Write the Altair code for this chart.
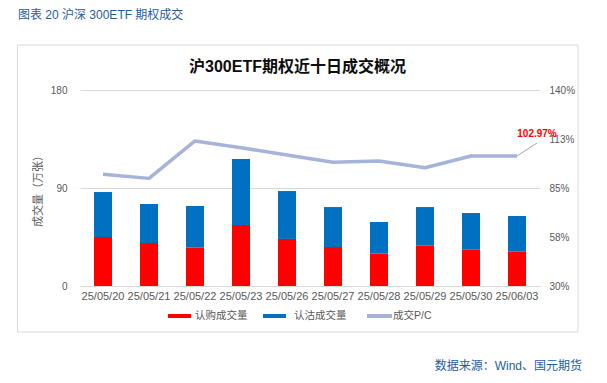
import altair as alt
import pandas as pd

dates = ["25/05/20", "25/05/21", "25/05/22", "25/05/23", "25/05/26",
         "25/05/27", "25/05/28", "25/05/29", "25/05/30", "25/06/03"]
call_vol = [45.0, 39.5, 35.2, 56.0, 43.2, 35.8, 29.7, 37.0, 33.3, 31.5]
put_vol = [41.3, 35.8, 38.3, 60.6, 44.0, 36.7, 29.1, 35.5, 33.7, 32.8]
pc_ratio = [92.7, 90.4, 111.4, 107.6, 103.5, 99.4, 100.1, 96.4, 102.97, 102.97]

series_names = ["认购成交量", "认沽成交量", "成交P/C"]
series_colors = ["#FF0000", "#0070C0", "#A6B4DA"]

left_ticks = [0, 90, 180]
right_ticks = [30, 57.5, 85, 112.5, 140]

CJK = "Liberation Sans, Noto Sans CJK SC"
GREY = "#595959"
BLUE_T = "#1F5C9E"

bars_rows = []
for i, d in enumerate(dates):
    bars_rows.append({"date": d, "series": series_names[0], "value": call_vol[i], "ord": 0})
    bars_rows.append({"date": d, "series": series_names[1], "value": put_vol[i], "ord": 1})
bars_df = pd.DataFrame(bars_rows)
line_df = pd.DataFrame({"date": dates, "ratio": pc_ratio})
last_df = pd.DataFrame({"date": [dates[-1]], "ratio": [pc_ratio[-1]],
                        "label": [f"{pc_ratio[-1]:.2f}%"]})

xenc = alt.X("date:N", sort=dates, title=None,
             scale=alt.Scale(paddingInner=0, paddingOuter=0),
             axis=alt.Axis(labelAngle=0, labelFontSize=11, labelColor=GREY,
                           labelFont="Liberation Sans", ticks=False, domain=True,
                           domainColor="#D9D9D9", labelPadding=4, grid=False))

bars = alt.Chart(bars_df).mark_bar(size=18).encode(
    x=xenc,
    y=alt.Y("value:Q", stack="zero",
            scale=alt.Scale(domain=[0, 180], nice=False, zero=True),
            axis=alt.Axis(orient="left", values=left_ticks, title="成交量（万张）",
                          titleFont=CJK, titleFontSize=11, titleColor=GREY,
                          titleFontWeight="normal", titlePadding=7,
                          labelFontSize=10, labelColor=GREY, labelFont="Liberation Sans",
                          labelPadding=13, ticks=False, domain=False,
                          grid=True, gridColor="#D9D9D9")),
    color=alt.Color("series:N", scale=alt.Scale(domain=series_names, range=series_colors),
                    legend=None),
    order=alt.Order("ord:Q"),
)

ry = alt.Scale(domain=[30, 140], nice=False, zero=False)
raxis = alt.Axis(orient="right", values=right_ticks, title=None,
                 labelExpr="round(datum.value) + '%'",
                 labelFontSize=10, labelColor=GREY, labelFont="Liberation Sans",
                 labelPadding=9, ticks=False, domain=False, grid=False)

line = alt.Chart(line_df).mark_line(color=series_colors[2], strokeWidth=3.5,
                                    strokeJoin="round").encode(
    x=alt.X("date:N", sort=dates),
    y=alt.Y("ratio:Q", scale=ry, axis=raxis),
)

leader = alt.Chart(last_df).mark_rule(color="#A6A6A6", strokeWidth=1).encode(
    x=alt.X("date:N", sort=dates),
    x2=alt.value(457),
    y=alt.Y("ratio:Q", scale=ry, axis=raxis),
    y2=alt.value(53),
)
label = alt.Chart(last_df).mark_text(color="#FF0000", fontWeight="bold", fontSize=10,
                                     font="Liberation Sans").encode(
    x=alt.value(457), y=alt.value(44), text="label:N")

right_layer = alt.layer(line, leader, label)

one = pd.DataFrame({"k": [0]})
frame = alt.Chart(one).mark_rect(fill="transparent", stroke="#D9D9D9", strokeWidth=1).encode(
    x=alt.value(-62.5), x2=alt.value(498), y=alt.value(-45), y2=alt.value(242))

top_title = alt.Chart(one).mark_text(align="left", baseline="middle", fontSize=12,
                                     font=CJK, color=BLUE_T).encode(
    x=alt.value(-62), y=alt.value(-75.5), text=alt.value("图表 20  沪深 300ETF 期权成交"))
chart_title = alt.Chart(one).mark_text(align="center", baseline="middle", fontSize=16,
                                       fontWeight="bold", font=CJK, color="#0D0D0D").encode(
    x=alt.value(217.5), y=alt.value(-23), text=alt.value("沪300ETF期权近十日成交概况"))
source = alt.Chart(one).mark_text(align="right", baseline="middle", fontSize=12,
                                  font=CJK, color=BLUE_T).encode(
    x=alt.value(502), y=alt.value(276), text=alt.value("数据来源：Wind、国元期货"))

leg_df = pd.DataFrame({
    "name": series_names,
    "color": series_colors,
    "x0": [88, 183, 287],
    "x1": [111, 206, 312],
    "tx": [115, 214, 313],
})
leg_rules = [
    alt.Chart(leg_df.iloc[[i]]).mark_rule(strokeWidth=4, color=series_colors[i]).encode(
        x=alt.value(float(leg_df.x0[i])), x2=alt.value(float(leg_df.x1[i])),
        y=alt.value(226))
    for i in range(3)
]
leg_texts = [
    alt.Chart(leg_df.iloc[[i]]).mark_text(align="left", baseline="middle", fontSize=10.5,
                                          font=CJK, color=GREY).encode(
        x=alt.value(float(leg_df.tx[i])), y=alt.value(226), text="name:N")
    for i in range(3)
]

chart = alt.layer(frame, top_title, chart_title, source, *leg_rules, *leg_texts,
                  bars, right_layer).resolve_scale(y="independent").properties(
    width=460, height=196,
    autosize=alt.AutoSizeParams(type="none"),
    padding={"left": 72, "top": 82, "right": 59, "bottom": 89},
    background="white",
).configure_view(stroke=None)

chart.save("out.html", embed_options={"renderer": "svg", "actions": False})
